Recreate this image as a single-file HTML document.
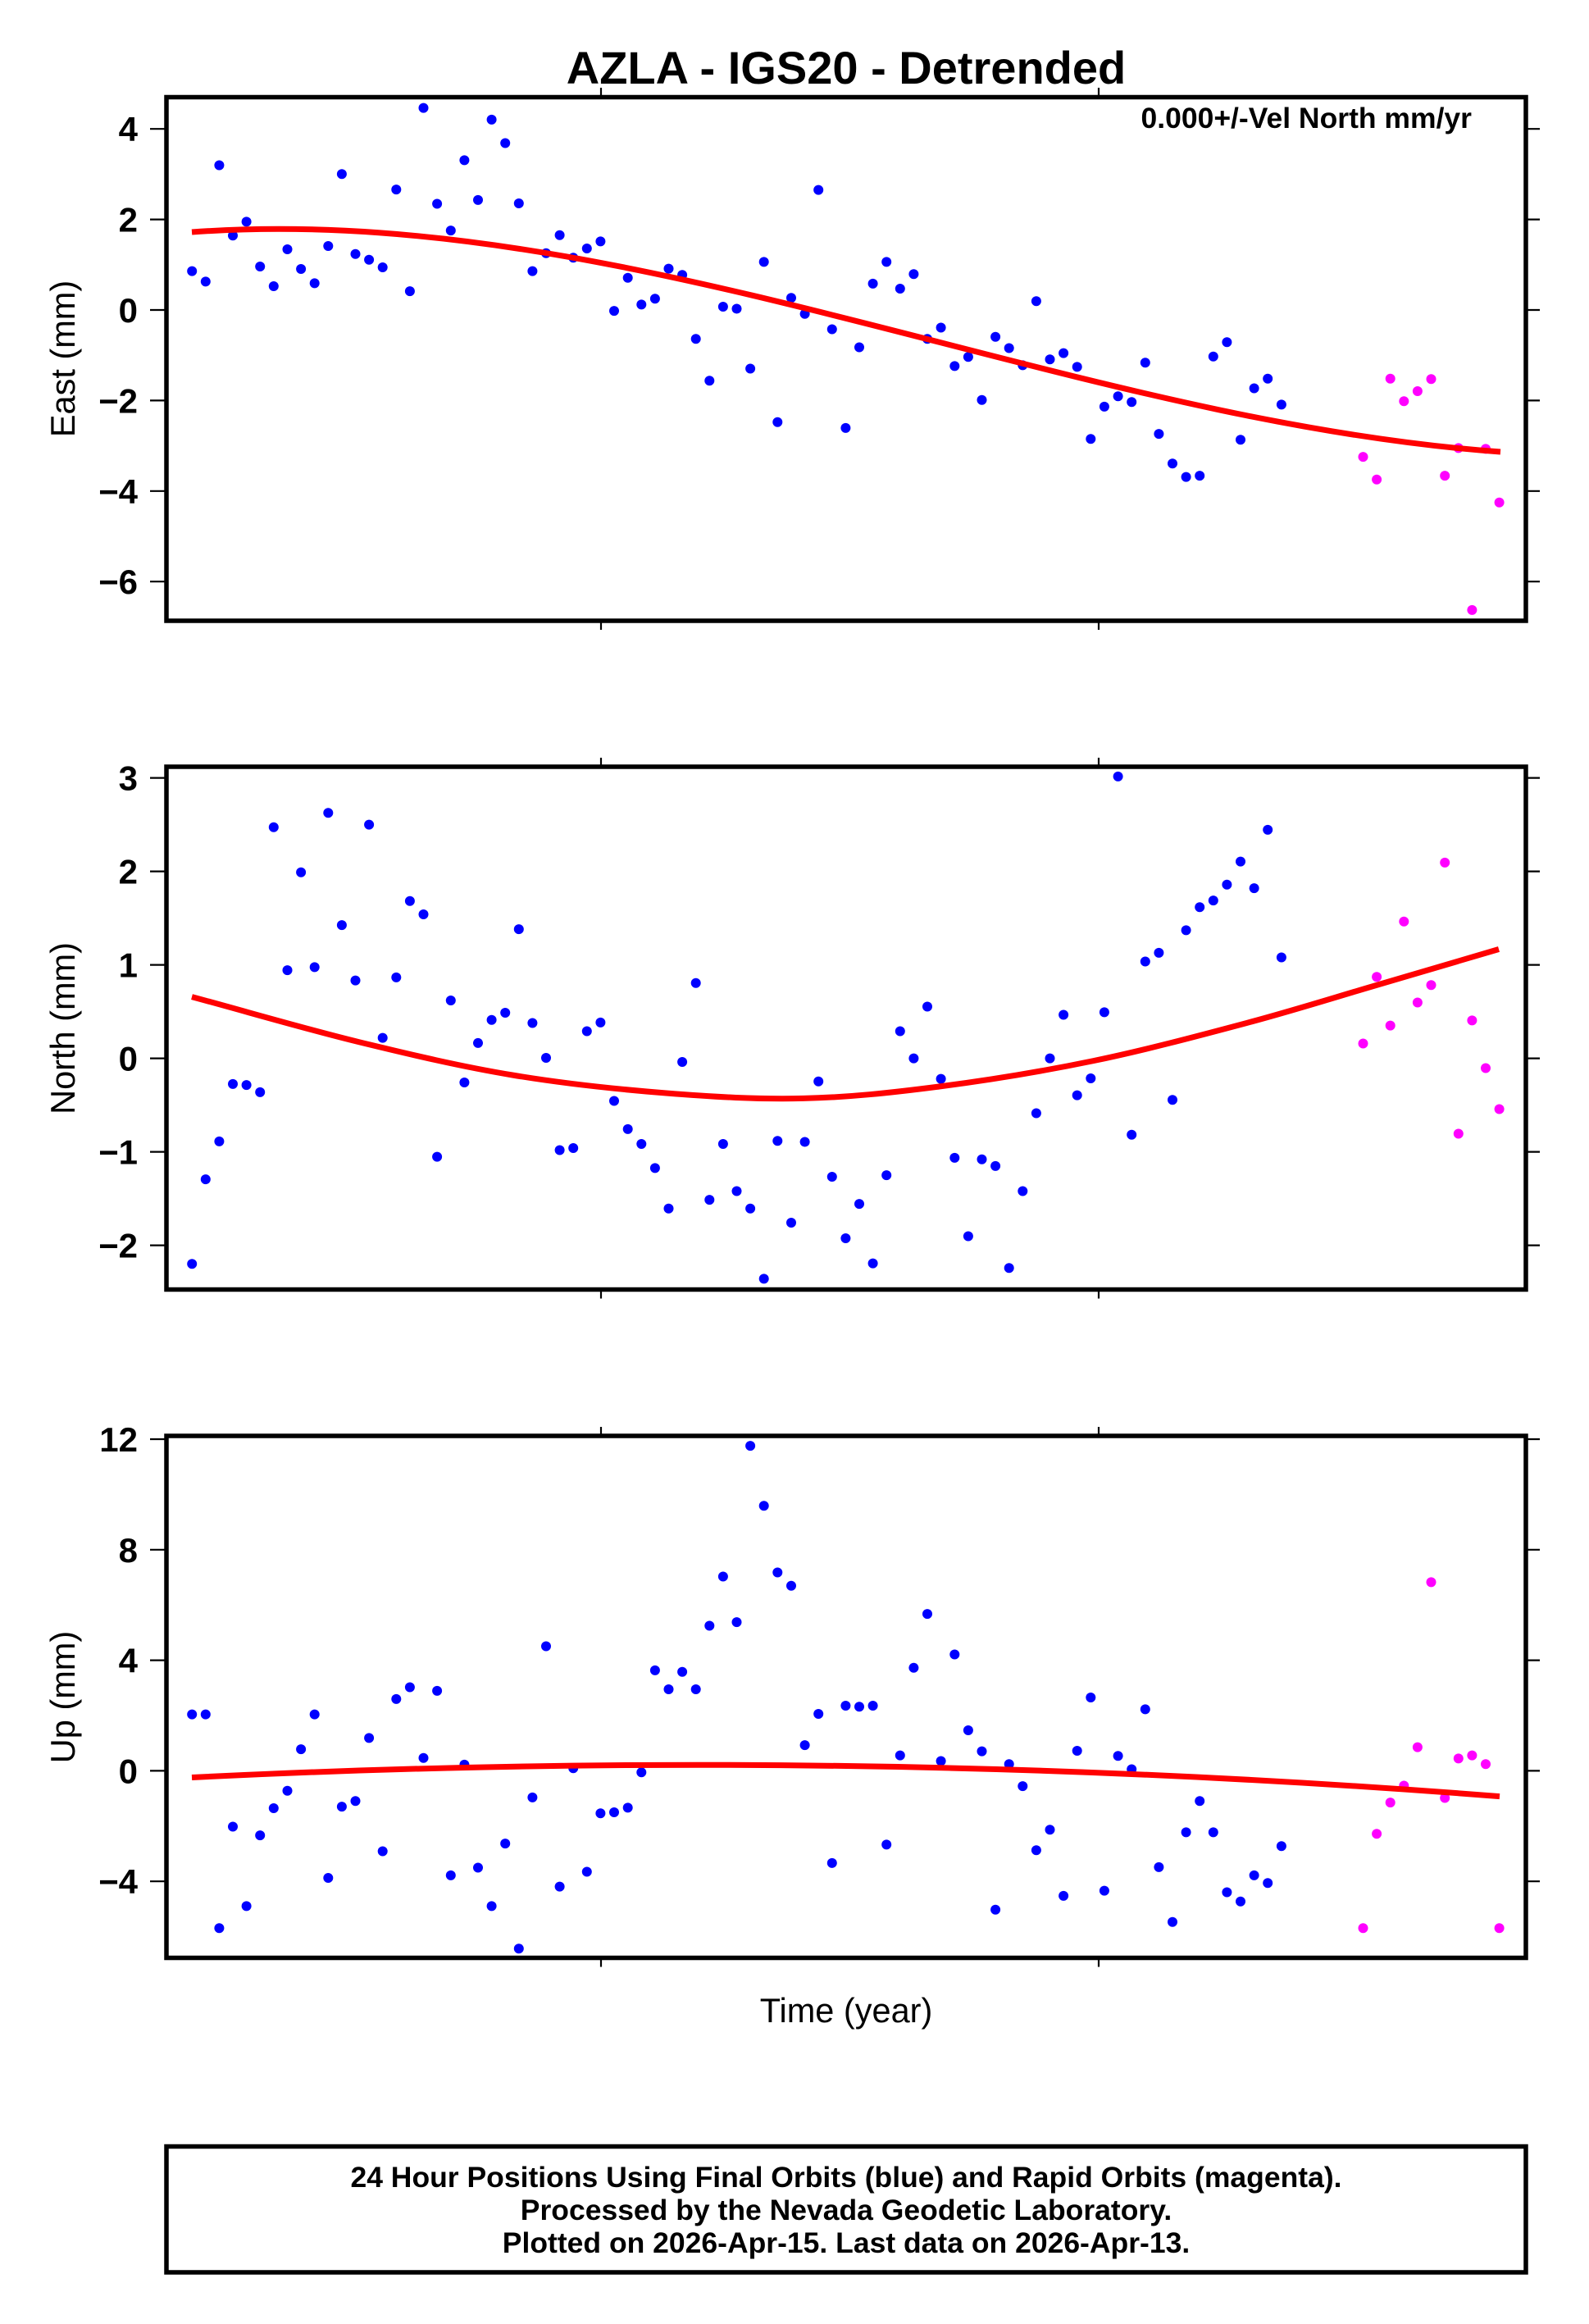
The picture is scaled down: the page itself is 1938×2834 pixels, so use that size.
<!DOCTYPE html>
<html>
<head>
<meta charset="utf-8">
<style>
html,body{margin:0;padding:0;background:#fff;}
svg{display:block;}
text{font-family:"Liberation Sans",Arial,Helvetica,sans-serif;fill:#000;}
.tl{font-size:42px;font-weight:bold;text-anchor:end;}
.ax{font-size:41.5px;text-anchor:middle;}
.b circle{fill:#0000ff;}
.m circle{fill:#ff00ff;}
.tk{stroke:#000;stroke-width:2.2;}
.fr{fill:none;stroke:#000;stroke-width:5.5;}
.fit{fill:none;stroke:#ff0000;stroke-width:7;stroke-linecap:butt;}
</style>
</head>
<body>
<svg width="1938" height="2834" viewBox="0 0 1938 2834" xmlns="http://www.w3.org/2000/svg">
<rect x="0" y="0" width="1938" height="2834" fill="#fff"/>

<!-- Title -->
<text x="1032" y="102" font-size="56" font-weight="bold" text-anchor="middle">AZLA - IGS20 - Detrended</text>

<!-- ================= PANEL 1 (East) ================= -->
<g class="tk">
<line x1="183" y1="157.2" x2="203" y2="157.2"/><line x1="183" y1="267.6" x2="203" y2="267.6"/>
<line x1="183" y1="378" x2="203" y2="378"/><line x1="183" y1="488.4" x2="203" y2="488.4"/>
<line x1="183" y1="598.8" x2="203" y2="598.8"/><line x1="183" y1="709.2" x2="203" y2="709.2"/>
<line x1="1861" y1="157.2" x2="1878" y2="157.2"/><line x1="1861" y1="267.6" x2="1878" y2="267.6"/>
<line x1="1861" y1="378" x2="1878" y2="378"/><line x1="1861" y1="488.4" x2="1878" y2="488.4"/>
<line x1="1861" y1="598.8" x2="1878" y2="598.8"/><line x1="1861" y1="709.2" x2="1878" y2="709.2"/>
<line x1="733" y1="107" x2="733" y2="118.5"/><line x1="1340" y1="107" x2="1340" y2="118.5"/>
<line x1="733" y1="757" x2="733" y2="768"/><line x1="1340" y1="757" x2="1340" y2="768"/>
</g>
<text class="tl" x="168" y="172.2">4</text>
<text class="tl" x="168" y="282.6">2</text>
<text class="tl" x="168" y="393">0</text>
<text class="tl" x="168" y="503.4">−2</text>
<text class="tl" x="168" y="613.8">−4</text>
<text class="tl" x="168" y="724.2">−6</text>
<text class="ax" transform="translate(91,437.5) rotate(-90)">East (mm)</text>
<text x="1795" y="156" font-size="35.5" font-weight="bold" text-anchor="end">0.000+/-Vel North mm/yr</text>

<g class="b">
<circle cx="234.2" cy="330.6" r="6"/><circle cx="250.8" cy="343.4" r="6"/><circle cx="267.4" cy="201.5" r="6"/><circle cx="284.0" cy="287.2" r="6"/><circle cx="300.6" cy="270.4" r="6"/><circle cx="317.2" cy="325" r="6"/><circle cx="333.8" cy="349" r="6"/><circle cx="350.5" cy="304" r="6"/><circle cx="367.1" cy="328" r="6"/><circle cx="383.7" cy="345.4" r="6"/>
<circle cx="400.3" cy="300" r="6"/><circle cx="416.9" cy="212.2" r="6"/><circle cx="433.5" cy="309.7" r="6"/><circle cx="450.1" cy="316.8" r="6"/><circle cx="466.7" cy="326" r="6"/><circle cx="483.3" cy="231.1" r="6"/><circle cx="499.9" cy="355.1" r="6"/><circle cx="516.5" cy="131.6" r="6"/><circle cx="533.1" cy="248.5" r="6"/><circle cx="549.8" cy="281.1" r="6"/>
<circle cx="566.4" cy="195.4" r="6"/><circle cx="583.0" cy="243.9" r="6"/><circle cx="599.6" cy="145.9" r="6"/><circle cx="616.2" cy="174.5" r="6"/><circle cx="632.8" cy="248" r="6"/><circle cx="649.4" cy="330.6" r="6"/><circle cx="666.0" cy="308.7" r="6"/><circle cx="682.6" cy="286.7" r="6"/><circle cx="699.2" cy="314.3" r="6"/><circle cx="715.8" cy="303" r="6"/>
<circle cx="732.4" cy="294.4" r="6"/><circle cx="749.0" cy="379.1" r="6"/><circle cx="765.7" cy="338.8" r="6"/><circle cx="782.3" cy="371.4" r="6"/><circle cx="798.9" cy="364.3" r="6"/><circle cx="815.5" cy="327.6" r="6"/><circle cx="832.1" cy="335.2" r="6"/><circle cx="848.7" cy="413.3" r="6"/><circle cx="865.3" cy="464.3" r="6"/><circle cx="881.9" cy="374" r="6"/>
<circle cx="898.5" cy="376.5" r="6"/><circle cx="915.1" cy="449.5" r="6"/><circle cx="931.7" cy="319.4" r="6"/><circle cx="948.3" cy="514.8" r="6"/><circle cx="965.0" cy="363.3" r="6"/><circle cx="981.6" cy="382.7" r="6"/><circle cx="998.2" cy="231.6" r="6"/><circle cx="1014.8" cy="401.5" r="6"/><circle cx="1031.4" cy="521.9" r="6"/><circle cx="1048.0" cy="423.5" r="6"/>
<circle cx="1064.6" cy="345.9" r="6"/><circle cx="1081.2" cy="319.4" r="6"/><circle cx="1097.8" cy="352" r="6"/><circle cx="1114.4" cy="334.2" r="6"/><circle cx="1131.0" cy="413.3" r="6"/><circle cx="1147.6" cy="399.5" r="6"/><circle cx="1164.3" cy="446.4" r="6"/><circle cx="1180.9" cy="435.2" r="6"/><circle cx="1197.5" cy="487.8" r="6"/><circle cx="1214.1" cy="410.7" r="6"/>
<circle cx="1230.7" cy="424.5" r="6"/><circle cx="1247.3" cy="445.4" r="6"/><circle cx="1263.9" cy="367.3" r="6"/><circle cx="1280.5" cy="438.3" r="6"/><circle cx="1297.1" cy="430.6" r="6"/><circle cx="1313.7" cy="447.4" r="6"/><circle cx="1330.3" cy="535.2" r="6"/><circle cx="1346.9" cy="495.9" r="6"/><circle cx="1363.6" cy="483.2" r="6"/><circle cx="1380.2" cy="490.3" r="6"/>
<circle cx="1396.8" cy="442.3" r="6"/><circle cx="1413.4" cy="529.1" r="6"/><circle cx="1430.0" cy="565.3" r="6"/><circle cx="1446.6" cy="581.6" r="6"/><circle cx="1463.2" cy="580.1" r="6"/><circle cx="1479.8" cy="434.7" r="6"/><circle cx="1496.4" cy="417.3" r="6"/><circle cx="1513.0" cy="536.2" r="6"/><circle cx="1529.6" cy="473.5" r="6"/><circle cx="1546.2" cy="461.7" r="6"/>
<circle cx="1562.9" cy="493.4" r="6"/>
</g>
<g class="m">
<circle cx="1662.5" cy="557.1" r="6"/><circle cx="1679.1" cy="584.7" r="6"/><circle cx="1695.7" cy="461.7" r="6"/><circle cx="1712.3" cy="489.3" r="6"/><circle cx="1728.9" cy="477" r="6"/><circle cx="1745.5" cy="462.2" r="6"/><circle cx="1762.2" cy="580.1" r="6"/><circle cx="1778.8" cy="546.4" r="6"/><circle cx="1795.4" cy="743.9" r="6"/><circle cx="1812.0" cy="547.4" r="6"/><circle cx="1828.6" cy="612.8" r="6"/>
</g>
<path class="fit" d="M234,283 C766,244.6 1298,512.8 1830,551"/>
<rect class="fr" x="203" y="118.5" width="1658" height="638.5"/>

<!-- ================= PANEL 2 (North) ================= -->
<g class="tk">
<line x1="183" y1="948.6" x2="203" y2="948.6"/><line x1="183" y1="1062.6" x2="203" y2="1062.6"/>
<line x1="183" y1="1176.6" x2="203" y2="1176.6"/><line x1="183" y1="1290.6" x2="203" y2="1290.6"/>
<line x1="183" y1="1404.6" x2="203" y2="1404.6"/><line x1="183" y1="1518.6" x2="203" y2="1518.6"/>
<line x1="1861" y1="948.6" x2="1878" y2="948.6"/><line x1="1861" y1="1062.6" x2="1878" y2="1062.6"/>
<line x1="1861" y1="1176.6" x2="1878" y2="1176.6"/><line x1="1861" y1="1290.6" x2="1878" y2="1290.6"/>
<line x1="1861" y1="1404.6" x2="1878" y2="1404.6"/><line x1="1861" y1="1518.6" x2="1878" y2="1518.6"/>
<line x1="733" y1="924" x2="733" y2="935"/><line x1="1340" y1="924" x2="1340" y2="935"/>
<line x1="733" y1="1572.5" x2="733" y2="1583.5"/><line x1="1340" y1="1572.5" x2="1340" y2="1583.5"/>
</g>
<text class="tl" x="168" y="963.6">3</text>
<text class="tl" x="168" y="1077.6">2</text>
<text class="tl" x="168" y="1191.6">1</text>
<text class="tl" x="168" y="1305.6">0</text>
<text class="tl" x="168" y="1419.6">−1</text>
<text class="tl" x="168" y="1533.6">−2</text>
<text class="ax" transform="translate(91,1254) rotate(-90)">North (mm)</text>

<g class="b">
<circle cx="234.2" cy="1541.3" r="6"/><circle cx="250.8" cy="1438.1" r="6"/><circle cx="267.4" cy="1391.9" r="6"/><circle cx="284.0" cy="1321.9" r="6"/><circle cx="300.6" cy="1323.1" r="6"/><circle cx="317.2" cy="1331.9" r="6"/><circle cx="333.8" cy="1008.75" r="6"/><circle cx="350.5" cy="1183.1" r="6"/><circle cx="367.1" cy="1063.75" r="6"/><circle cx="383.7" cy="1179.4" r="6"/>
<circle cx="400.3" cy="991.25" r="6"/><circle cx="416.9" cy="1128.1" r="6"/><circle cx="433.5" cy="1195.6" r="6"/><circle cx="450.1" cy="1005.6" r="6"/><circle cx="466.7" cy="1265.6" r="6"/><circle cx="483.3" cy="1191.9" r="6"/><circle cx="499.9" cy="1098.75" r="6"/><circle cx="516.5" cy="1115" r="6"/><circle cx="533.1" cy="1410.6" r="6"/><circle cx="549.8" cy="1220" r="6"/>
<circle cx="566.4" cy="1320" r="6"/><circle cx="583.0" cy="1271.9" r="6"/><circle cx="599.6" cy="1243.75" r="6"/><circle cx="616.2" cy="1235" r="6"/><circle cx="632.8" cy="1133.1" r="6"/><circle cx="649.4" cy="1247.5" r="6"/><circle cx="666.0" cy="1290" r="6"/><circle cx="682.6" cy="1402.5" r="6"/><circle cx="699.2" cy="1400" r="6"/><circle cx="715.8" cy="1257.5" r="6"/>
<circle cx="732.4" cy="1246.9" r="6"/><circle cx="749.0" cy="1342.5" r="6"/><circle cx="765.7" cy="1376.9" r="6"/><circle cx="782.3" cy="1395" r="6"/><circle cx="798.9" cy="1424.4" r="6"/><circle cx="815.5" cy="1473.75" r="6"/><circle cx="832.1" cy="1295" r="6"/><circle cx="848.7" cy="1198.75" r="6"/><circle cx="865.3" cy="1463.1" r="6"/><circle cx="881.9" cy="1395" r="6"/>
<circle cx="898.5" cy="1452.5" r="6"/><circle cx="915.1" cy="1473.75" r="6"/><circle cx="931.7" cy="1559.4" r="6"/><circle cx="948.3" cy="1391.25" r="6"/><circle cx="965.0" cy="1491" r="6"/><circle cx="981.6" cy="1392.5" r="6"/><circle cx="998.2" cy="1318.75" r="6"/><circle cx="1014.8" cy="1435" r="6"/><circle cx="1031.4" cy="1510" r="6"/><circle cx="1048.0" cy="1468.1" r="6"/>
<circle cx="1064.6" cy="1540.6" r="6"/><circle cx="1081.2" cy="1433.1" r="6"/><circle cx="1097.8" cy="1257.5" r="6"/><circle cx="1114.4" cy="1290.6" r="6"/><circle cx="1131.0" cy="1227.5" r="6"/><circle cx="1147.6" cy="1315.6" r="6"/><circle cx="1164.3" cy="1411.9" r="6"/><circle cx="1180.9" cy="1507.5" r="6"/><circle cx="1197.5" cy="1413.75" r="6"/><circle cx="1214.1" cy="1421.9" r="6"/>
<circle cx="1230.7" cy="1546.25" r="6"/><circle cx="1247.3" cy="1452.5" r="6"/><circle cx="1263.9" cy="1357.5" r="6"/><circle cx="1280.5" cy="1290.6" r="6"/><circle cx="1297.1" cy="1237.5" r="6"/><circle cx="1313.7" cy="1335.6" r="6"/><circle cx="1330.3" cy="1315" r="6"/><circle cx="1346.9" cy="1234.4" r="6"/><circle cx="1363.6" cy="946.9" r="6"/><circle cx="1380.2" cy="1383.75" r="6"/>
<circle cx="1396.8" cy="1172.5" r="6"/><circle cx="1413.4" cy="1161.9" r="6"/><circle cx="1430.0" cy="1341.25" r="6"/><circle cx="1446.6" cy="1134.4" r="6"/><circle cx="1463.2" cy="1106.25" r="6"/><circle cx="1479.8" cy="1098.1" r="6"/><circle cx="1496.4" cy="1078.75" r="6"/><circle cx="1513.0" cy="1050.6" r="6"/><circle cx="1529.6" cy="1083.1" r="6"/><circle cx="1546.2" cy="1011.9" r="6"/>
<circle cx="1562.9" cy="1167.5" r="6"/>
</g>
<g class="m">
<circle cx="1662.5" cy="1272.5" r="6"/><circle cx="1679.1" cy="1191.25" r="6"/><circle cx="1695.7" cy="1250.6" r="6"/><circle cx="1712.3" cy="1123.75" r="6"/><circle cx="1728.9" cy="1222.5" r="6"/><circle cx="1745.5" cy="1201.25" r="6"/><circle cx="1762.2" cy="1051.9" r="6"/><circle cx="1778.8" cy="1382.5" r="6"/><circle cx="1795.4" cy="1244.4" r="6"/><circle cx="1812.0" cy="1302.5" r="6"/><circle cx="1828.6" cy="1352.5" r="6"/>
</g>
<path class="fit" d="M234,1215.6 C301.8,1233.9 372.3,1254.7 437.5,1270.6 C502.7,1286.5 562.5,1300.6 625,1311 C687.5,1321.4 753.3,1328.3 812.5,1333 C871.7,1337.7 924.5,1340.7 980,1339.4 C1035.5,1338.1 1086.7,1332.6 1145.5,1325 C1204.3,1317.4 1270.5,1306.65 1333,1293.75 C1395.5,1280.85 1463.2,1262.8 1520.5,1247.5 C1577.8,1232.2 1625.5,1217 1676.75,1202 C1728,1187 1777.6,1172.3 1828,1157.5"/>
<rect class="fr" x="203" y="935" width="1658" height="637.5"/>

<!-- ================= PANEL 3 (Up) ================= -->
<g class="tk">
<line x1="183" y1="1755" x2="203" y2="1755"/><line x1="183" y1="1889.8" x2="203" y2="1889.8"/>
<line x1="183" y1="2024.6" x2="203" y2="2024.6"/><line x1="183" y1="2159.4" x2="203" y2="2159.4"/>
<line x1="183" y1="2294.2" x2="203" y2="2294.2"/>
<line x1="1861" y1="1755" x2="1878" y2="1755"/><line x1="1861" y1="1889.8" x2="1878" y2="1889.8"/>
<line x1="1861" y1="2024.6" x2="1878" y2="2024.6"/><line x1="1861" y1="2159.4" x2="1878" y2="2159.4"/>
<line x1="1861" y1="2294.2" x2="1878" y2="2294.2"/>
<line x1="733" y1="1740" x2="733" y2="1751"/><line x1="1340" y1="1740" x2="1340" y2="1751"/>
<line x1="733" y1="2387.5" x2="733" y2="2398.5"/><line x1="1340" y1="2387.5" x2="1340" y2="2398.5"/>
</g>
<text class="tl" x="168" y="1770">12</text>
<text class="tl" x="168" y="1904.8">8</text>
<text class="tl" x="168" y="2039.6">4</text>
<text class="tl" x="168" y="2174.4">0</text>
<text class="tl" x="168" y="2309.2">−4</text>
<text class="ax" transform="translate(91,2069.5) rotate(-90)">Up (mm)</text>

<g class="b">
<circle cx="234.2" cy="2090.6" r="6"/><circle cx="250.8" cy="2090.6" r="6"/><circle cx="267.4" cy="2351.25" r="6"/><circle cx="284.0" cy="2227.5" r="6"/><circle cx="300.6" cy="2324.4" r="6"/><circle cx="317.2" cy="2238.1" r="6"/><circle cx="333.8" cy="2205" r="6"/><circle cx="350.5" cy="2183.75" r="6"/><circle cx="367.1" cy="2133.1" r="6"/><circle cx="383.7" cy="2090.6" r="6"/>
<circle cx="400.3" cy="2290" r="6"/><circle cx="416.9" cy="2203.1" r="6"/><circle cx="433.5" cy="2196.25" r="6"/><circle cx="450.1" cy="2119.4" r="6"/><circle cx="466.7" cy="2257.5" r="6"/><circle cx="483.3" cy="2071.9" r="6"/><circle cx="499.9" cy="2057.5" r="6"/><circle cx="516.5" cy="2143.75" r="6"/><circle cx="533.1" cy="2061.9" r="6"/><circle cx="549.8" cy="2286.9" r="6"/>
<circle cx="566.4" cy="2151.9" r="6"/><circle cx="583.0" cy="2277.5" r="6"/><circle cx="599.6" cy="2324.4" r="6"/><circle cx="616.2" cy="2248.1" r="6"/><circle cx="632.8" cy="2376.25" r="6"/><circle cx="649.4" cy="2191.9" r="6"/><circle cx="666.0" cy="2007.5" r="6"/><circle cx="682.6" cy="2300.6" r="6"/><circle cx="699.2" cy="2156.25" r="6"/><circle cx="715.8" cy="2282.5" r="6"/>
<circle cx="732.4" cy="2211.25" r="6"/><circle cx="749.0" cy="2210" r="6"/><circle cx="765.7" cy="2204.4" r="6"/><circle cx="782.3" cy="2161.25" r="6"/><circle cx="798.9" cy="2036.9" r="6"/><circle cx="815.5" cy="2060" r="6"/><circle cx="832.1" cy="2038.75" r="6"/><circle cx="848.7" cy="2060" r="6"/><circle cx="865.3" cy="1982.5" r="6"/><circle cx="881.9" cy="1922.5" r="6"/>
<circle cx="898.5" cy="1978.1" r="6"/><circle cx="915.1" cy="1763.1" r="6"/><circle cx="931.7" cy="1836.25" r="6"/><circle cx="948.3" cy="1917.5" r="6"/><circle cx="965.0" cy="1933.75" r="6"/><circle cx="981.6" cy="2128.1" r="6"/><circle cx="998.2" cy="2090" r="6"/><circle cx="1014.8" cy="2271.9" r="6"/><circle cx="1031.4" cy="2080" r="6"/><circle cx="1048.0" cy="2081.25" r="6"/>
<circle cx="1064.6" cy="2080" r="6"/><circle cx="1081.2" cy="2249.4" r="6"/><circle cx="1097.8" cy="2140.6" r="6"/><circle cx="1114.4" cy="2033.75" r="6"/><circle cx="1131.0" cy="1968.1" r="6"/><circle cx="1147.6" cy="2147.5" r="6"/><circle cx="1164.3" cy="2017.5" r="6"/><circle cx="1180.9" cy="2110" r="6"/><circle cx="1197.5" cy="2135.6" r="6"/><circle cx="1214.1" cy="2328.75" r="6"/>
<circle cx="1230.7" cy="2151.25" r="6"/><circle cx="1247.3" cy="2178.1" r="6"/><circle cx="1263.9" cy="2256.25" r="6"/><circle cx="1280.5" cy="2231.25" r="6"/><circle cx="1297.1" cy="2311.9" r="6"/><circle cx="1313.7" cy="2135" r="6"/><circle cx="1330.3" cy="2070" r="6"/><circle cx="1346.9" cy="2305.6" r="6"/><circle cx="1363.6" cy="2141.25" r="6"/><circle cx="1380.2" cy="2157.5" r="6"/>
<circle cx="1396.8" cy="2084.4" r="6"/><circle cx="1413.4" cy="2276.9" r="6"/><circle cx="1430.0" cy="2343.75" r="6"/><circle cx="1446.6" cy="2234.4" r="6"/><circle cx="1463.2" cy="2196.25" r="6"/><circle cx="1479.8" cy="2234.4" r="6"/><circle cx="1496.4" cy="2307.5" r="6"/><circle cx="1513.0" cy="2318.75" r="6"/><circle cx="1529.6" cy="2286.9" r="6"/><circle cx="1546.2" cy="2296.25" r="6"/>
<circle cx="1562.9" cy="2251.25" r="6"/>
</g>
<g class="m">
<circle cx="1662.5" cy="2351.25" r="6"/><circle cx="1679.1" cy="2236.25" r="6"/><circle cx="1695.7" cy="2198.1" r="6"/><circle cx="1712.3" cy="2177.5" r="6"/><circle cx="1728.9" cy="2130.6" r="6"/><circle cx="1745.5" cy="1929.4" r="6"/><circle cx="1762.2" cy="2192.5" r="6"/><circle cx="1778.8" cy="2144.4" r="6"/><circle cx="1795.4" cy="2140.6" r="6"/><circle cx="1812.0" cy="2151.25" r="6"/><circle cx="1828.6" cy="2351.25" r="6"/>
</g>
<path class="fit" d="M234,2167.5 Q1032,2128 1829,2190.6"/>
<rect class="fr" x="203" y="1751" width="1658" height="636.5"/>

<!-- X axis label -->
<text x="1032" y="2466" font-size="41.5" text-anchor="middle">Time (year)</text>

<!-- Footer box -->
<rect class="fr" x="203" y="2617.5" width="1658" height="153.5"/>
<text x="1032" y="2667" font-size="35.5" font-weight="bold" text-anchor="middle">24 Hour Positions Using Final Orbits (blue) and Rapid Orbits (magenta).</text>
<text x="1032" y="2707" font-size="35.5" font-weight="bold" text-anchor="middle">Processed by the Nevada Geodetic Laboratory.</text>
<text x="1032" y="2747" font-size="35.5" font-weight="bold" text-anchor="middle">Plotted on 2026-Apr-15. Last data on 2026-Apr-13.</text>
</svg>
</body>
</html>
